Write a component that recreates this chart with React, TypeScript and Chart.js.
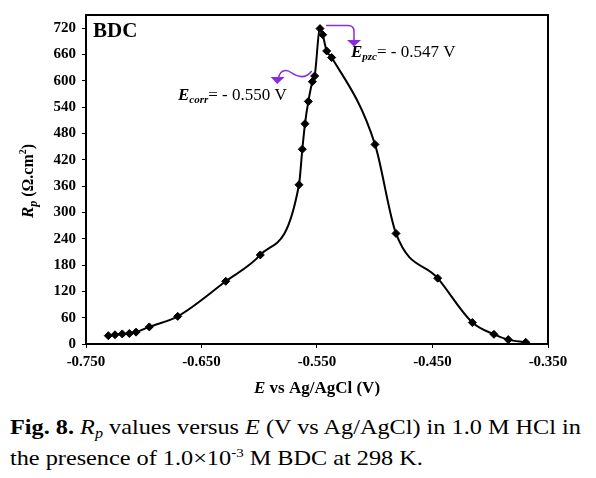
import React, { useEffect, useRef } from "react";
import { Chart, registerables } from "chart.js";

Chart.register(...registerables);

// ---- data ----
const E_VALUES = [
  -0.7307, -0.7249, -0.7186, -0.7125, -0.7067, -0.6952, -0.6706, -0.629, -0.5991,
  -0.5656, -0.5627, -0.5604, -0.5575, -0.554, -0.552, -0.5474, -0.5451, -0.5416,
  -0.5373, -0.4998, -0.4816, -0.4455, -0.4155, -0.3968, -0.3844, -0.3693,
];
const RP_VALUES = [
  19, 21, 23, 24, 27, 39, 63, 143, 203,
  363, 444, 502, 553, 598, 611, 719, 705, 668,
  653, 455, 252, 150, 49, 22, 10, 4,
];
const X_TICKS = [-0.75, -0.65, -0.55, -0.45, -0.35];
const Y_TICKS = [0, 60, 120, 180, 240, 300, 360, 420, 480, 540, 600, 660, 720];
const X_MIN = -0.75;
const X_MAX = -0.35;
const Y_MIN = 0;
const Y_MAX = 750;
const SERIES_LABEL = "BDC";
const ECORR_TEXT = "= - 0.550 V";
const EPZC_TEXT = "= - 0.547 V";

const SERIF = '"Liberation Serif", "Times New Roman", serif';
const PURPLE = "#8a2be2";

type Seg = { t: string; f: string; dy?: number };

function drawRich(ctx: CanvasRenderingContext2D, segs: Seg[], x: number, y: number, align: "left" | "center") {
  let total = 0;
  for (const s of segs) {
    ctx.font = s.f;
    total += ctx.measureText(s.t).width;
  }
  let cx = align === "center" ? x - total / 2 : x;
  ctx.textAlign = "left";
  ctx.textBaseline = "alphabetic";
  for (const s of segs) {
    ctx.font = s.f;
    ctx.fillText(s.t, cx, y + (s.dy || 0));
    cx += ctx.measureText(s.t).width;
  }
}

const decorPlugin = {
  id: "decor",
  afterDraw(chart: any) {
    const { ctx, chartArea } = chart;
    const xs = chart.scales.x;
    const ys = chart.scales.y;
    ctx.save();
    // plot frame
    ctx.strokeStyle = "#000";
    ctx.lineWidth = 2;
    ctx.strokeRect(chartArea.left, chartArea.top, chartArea.right - chartArea.left, chartArea.bottom - chartArea.top);

    ctx.fillStyle = "#000";
    // series label inside plot
    ctx.font = `bold 21px ${SERIF}`;
    ctx.textAlign = "left";
    ctx.textBaseline = "alphabetic";
    ctx.fillText(SERIES_LABEL, chartArea.left + 7, 37);

    // x axis title
    drawRich(
      ctx,
      [
        { t: "E", f: `italic bold 17px ${SERIF}` },
        { t: " vs Ag/AgCl (V)", f: `bold 17px ${SERIF}` },
      ],
      (chartArea.left + chartArea.right) / 2,
      393,
      "center"
    );

    // y axis title (rotated)
    ctx.save();
    ctx.translate(33, 181);
    ctx.rotate(-Math.PI / 2);
    drawRich(
      ctx,
      [
        { t: "R", f: `italic bold 17px ${SERIF}` },
        { t: "p", f: `italic bold 12px ${SERIF}`, dy: 4 },
        { t: " (Ω.cm", f: `bold 16px ${SERIF}` },
        { t: "2", f: `bold 10px ${SERIF}`, dy: -7 },
        { t: ")", f: `bold 16px ${SERIF}` },
      ],
      0,
      0,
      "center"
    );
    ctx.restore();

    // annotations anchored to data points
    const peakX = xs.getPixelForValue(E_VALUES[15]);
    const peakY = ys.getPixelForValue(RP_VALUES[15]);
    const corrX = xs.getPixelForValue(E_VALUES[14]);
    const corrY = ys.getPixelForValue(RP_VALUES[14]);

    drawRich(
      ctx,
      [
        { t: "E", f: `italic bold 17px ${SERIF}` },
        { t: "corr", f: `italic bold 11px ${SERIF}`, dy: 3 },
        { t: ECORR_TEXT, f: `17px ${SERIF}` },
      ],
      178,
      100,
      "left"
    );
    drawRich(
      ctx,
      [
        { t: "E", f: `italic bold 17px ${SERIF}` },
        { t: "pzc", f: `italic bold 11px ${SERIF}`, dy: 3 },
        { t: EPZC_TEXT, f: `17px ${SERIF}` },
      ],
      351,
      57,
      "left"
    );

    // purple arrows
    ctx.strokeStyle = PURPLE;
    ctx.fillStyle = PURPLE;
    ctx.lineWidth = 1.5;
    // Ecorr wavy arrow
    const sx = corrX - 3;
    const sy = corrY - 5;
    ctx.beginPath();
    ctx.moveTo(sx, sy);
    ctx.bezierCurveTo(sx - 6, sy + 8, sx - 14, sy + 6, sx - 20, sy + 2);
    ctx.bezierCurveTo(sx - 25, sy - 2, sx - 31, sy - 1, sx - 33, sy + 6);
    ctx.stroke();
    ctx.beginPath();
    ctx.moveTo(sx - 41, sy + 6);
    ctx.lineTo(sx - 27, sy + 6);
    ctx.lineTo(sx - 34.5, sy + 13);
    ctx.closePath();
    ctx.fill();

    // Epzc arrow
    const px = peakX + 6;
    const py = peakY - 3;
    ctx.beginPath();
    ctx.moveTo(px, py);
    ctx.lineTo(px + 22, py);
    ctx.quadraticCurveTo(px + 28, py, px + 28, py + 6);
    ctx.lineTo(px + 28, py + 15);
    ctx.stroke();
    ctx.beginPath();
    ctx.moveTo(px + 21, py + 14.5);
    ctx.lineTo(px + 35, py + 14.5);
    ctx.lineTo(px + 28, py + 21);
    ctx.closePath();
    ctx.fill();

    ctx.restore();
  },
};

function RpChart() {
  const ref = useRef<HTMLCanvasElement | null>(null);
  useEffect(() => {
    if (!ref.current) return;
    const points = E_VALUES.map((e, i) => ({ x: e, y: RP_VALUES[i] }));
    const tickFont = { family: SERIF, weight: "bold" as const, size: 15 };
    const chart = new Chart(ref.current, {
      type: "scatter",
      data: {
        datasets: [
          {
            label: SERIES_LABEL,
            data: points,
            showLine: true,
            borderColor: "#000",
            backgroundColor: "#000",
            borderWidth: 2,
            pointStyle: "rectRot",
            pointRadius: 4,
            pointBorderWidth: 1,
            cubicInterpolationMode: "monotone",
          } as any,
        ],
      },
      options: {
        animation: false,
        responsive: false,
        devicePixelRatio: 1,
        layout: { autoPadding: false, padding: { top: 12, right: 48, left: 0, bottom: 0 } },
        plugins: { legend: { display: false }, tooltip: { enabled: false }, title: { display: false } },
        scales: {
          x: {
            type: "linear",
            min: X_MIN,
            max: X_MAX,
            afterBuildTicks: (s: any) => {
              s.ticks = X_TICKS.map((v) => ({ value: v }));
            },
            afterFit: (s: any) => {
              s.height = 410 - 344;
            },
            ticks: {
              callback: (v: any) => Number(v).toFixed(3),
              font: tickFont,
              color: "#000",
              padding: 5,
              maxRotation: 0,
              autoSkip: false,
            },
            grid: { drawOnChartArea: false, tickLength: 4, color: "#000", lineWidth: 1 },
            border: { color: "#000", width: 2 },
          },
          y: {
            type: "linear",
            min: Y_MIN,
            max: Y_MAX,
            afterBuildTicks: (s: any) => {
              s.ticks = Y_TICKS.map((v) => ({ value: v }));
            },
            afterFit: (s: any) => {
              s.width = 86;
            },
            ticks: {
              callback: (v: any) => String(v),
              font: tickFont,
              color: "#000",
              padding: 6,
              autoSkip: false,
            },
            grid: { drawOnChartArea: false, tickLength: 4, color: "#000", lineWidth: 1 },
            border: { color: "#000", width: 2 },
          },
        },
      },
      plugins: [decorPlugin],
    });
    return () => chart.destroy();
  }, []);
  return <canvas ref={ref} width={596} height={410} style={{ display: "block", width: 596, height: 410 }} />;
}

export default function App() {
  return (
    <div style={{ position: "fixed", left: 0, top: 0, width: 596, height: 478, background: "#fff", overflow: "hidden" }}>
      <div style={{ position: "absolute", left: 0, top: 0 }}>
        <RpChart />
      </div>
      <div
        style={{
          position: "absolute",
          left: 10,
          top: 413,
          fontFamily: SERIF,
          fontSize: 21,
          lineHeight: "29px",
          color: "#000",
          whiteSpace: "nowrap",
          transform: "scaleX(1.155)",
          transformOrigin: "0 0",
        }}
      >
        <b>Fig. 8.</b> <i>R</i>
        <i style={{ fontSize: 14, position: "relative", top: 4 }}>p</i> values versus <i>E</i> (V vs Ag/AgCl) in 1.0 M HCl in
        <br />
        the presence of 1.0×10
        <span style={{ fontSize: 13, position: "relative", top: -8 }}>-3</span> M BDC at 298 K.
      </div>
    </div>
  );
}
